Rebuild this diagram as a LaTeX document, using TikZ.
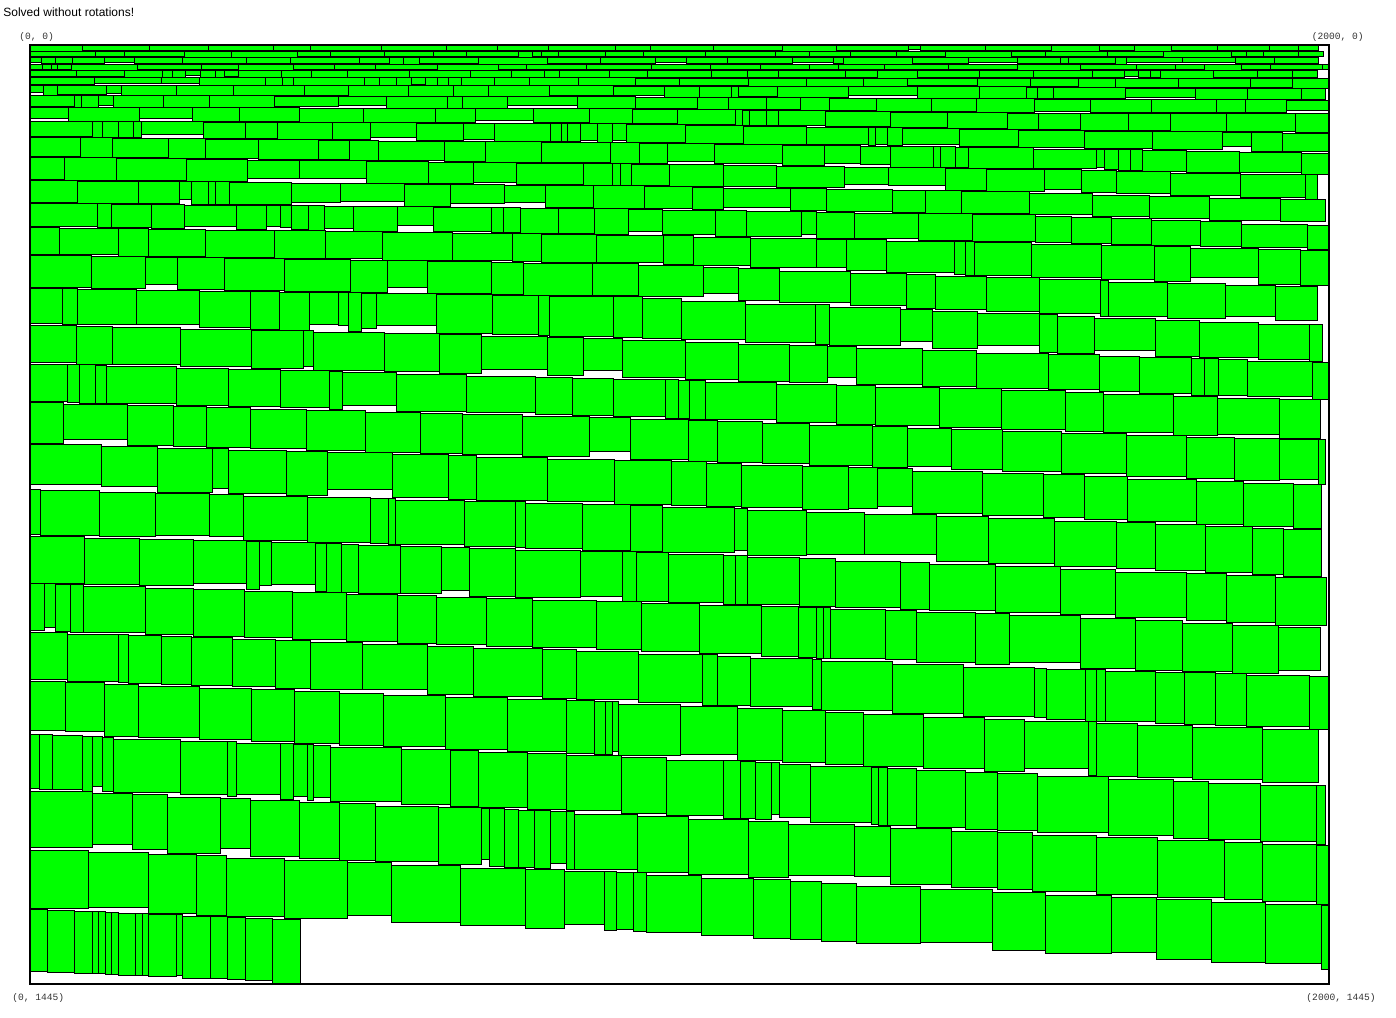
\documentclass[tikz,border=0pt]{standalone}
\usepackage{fontspec}
\newfontfamily\titlefont{Liberation Sans}
\newfontfamily\coordfont{Liberation Mono}
\definecolor{boxgreen}{RGB}{0,255,0}
\tikzstyle{packbox}=[fill=boxgreen,draw=black,line width=0.48pt]
\tikzstyle{corner}=[font=\coordfont\fontsize{4.8}{5}\selectfont,text=black!80,inner sep=0pt]
% shelf lines, read at x = 30, 650, 1040 and 1329
\def\bL{{45,51,57,64,70,77,85,95,107,121,137,157,180,203,227,255,288,324,363,402,443,489,535,583,631,680,734,789,848,909}}
\def\bM{{45,51,57,64,70,78,86,97,109,124,143,164,186,209,235,264,297,339,379,418,460,505,552,602,652,703,757,815,873,933}}
\def\bN{{45,51,57,64,70,78,87,99,113,130,148,169,192,215,243,278,314,353,390,431,473,518,566,614,668,720,774,833,892,953}}
\def\bR{{45,51,57,64,70,78,89,100,113,133,153,175,200,225,250,287,325,362,400,440,485,530,578,628,676,730,786,845,905,970}}
\newcommand{\getBnd}[3]{%
\pgfmathsetmacro#3{(#2<650) ? (\bL[#1]+(\bM[#1]-\bL[#1])/620*(#2-30)) : ((#2<1040) ? (\bM[#1]+(\bN[#1]-\bM[#1])/390*(#2-650)) : (\bN[#1]+(\bR[#1]-\bN[#1])/289*(#2-1040)))}%
}

\begin{document}
\begin{tikzpicture}[x=0.5pt,y=-0.5pt]
\useasboundingbox (0,0) rectangle (1396,1017);
\pgfmathsetseed{4}
%shelves
\foreach \i in {0,...,28}{
  \pgfmathtruncatemacro\j{\i+1}
  \pgfmathsetmacro\hh{\bM[\j]-\bM[\i]}
  \pgfmathsetmacro\xend{rnd<0.55 ? 1329 : 1329-3-9*rnd}
  \def\xc{30}
  \def\slv{0}
  \loop
    \pgfmathsetmacro\pp{\slv>0 ? 0.55 : 0.12}
    \pgfmathtruncatemacro\isslv{rnd<\pp ? 1 : 0}
    \pgfmathsetmacro\ww{\isslv==1 ? 6+12*rnd : 28+44*rnd}
    \pgfmathsetmacro\xb{min(\xc+\ww,\xend)}
    \getBnd{\i}{\xc}{\ta}
    \getBnd{\i}{\xb}{\tb}
    \getBnd{\j}{\xc}{\ba}
    \getBnd{\j}{\xb}{\bb}
    \pgfmathsetmacro\gp{(rnd<0.82 ? 0.6*rnd : 2+5*rnd)*min(1,\hh/30)}
    \pgfmathsetmacro\tp{max(\ta,\tb)}
    \pgfmathsetmacro\bt{min(\ba,\bb)-\gp}
    \draw[packbox] (\xc,\tp) rectangle (\xb,\bt);
    \let\xc\xb
    \let\slv\isslv
    \pgfmathtruncatemacro\more{\xend-\xc>6 ? 1 : 0}
  \ifnum\more=1 \repeat
}
%short shelf at the bottom left
\foreach \xa/\xb/\hh in {30/47/62,47/74/62,74/92/62,92/98/62,98/105/62,105/111/62,111/118/62,118/135/62,135/142/62,142/148/62,148/176/62,176/182/61,182/210/62,210/227/62,227/245/62,245/272/62,272/300/64.5}{
  \getBnd{29}{\xb}{\tp}
  \pgfmathsetmacro\bt{\tp+\hh}
  \draw[packbox] (\xa,\tp) rectangle (\xb,\bt);
}
%frame
\draw[line width=0.55pt] (30,45) rectangle (1329,984);
%labels
\node[anchor=west,inner sep=0pt,font=\titlefont\fontsize{6}{7}\selectfont] (title) at (3,12) {Solved without rotations!};
\node[corner,anchor=west] (topleft) at (19,37) {(0, 0)};
\node[corner,anchor=east] (topright) at (1364,37) {(2000, 0)};
\node[corner,anchor=west] (bottomleft) at (12,998) {(0, 1445)};
\node[corner,anchor=east] (bottomright) at (1376,998) {(2000, 1445)};
\end{tikzpicture}
\end{document}
